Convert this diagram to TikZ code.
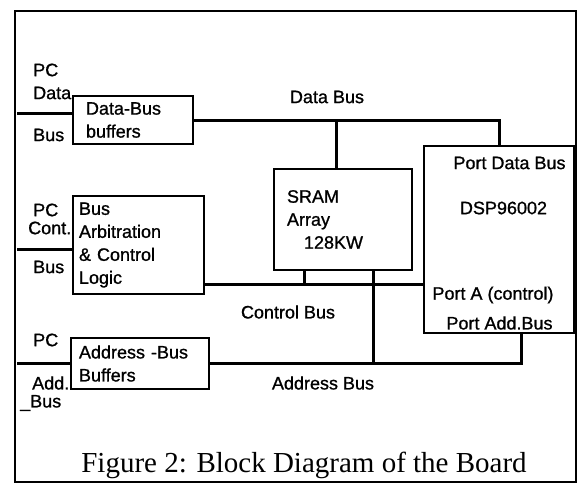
\documentclass[tikz,border=0pt]{standalone}
\usepackage{fontspec}
\setmainfont{Liberation Serif}
\setsansfont{Liberation Sans}[BoldFont={Liberation Sans}, BoldFeatures={FakeBold=1.0}]
\usetikzlibrary{positioning, calc}

\begin{document}
\begin{tikzpicture}[
  x=1pt, y=-1pt, font=\sffamily\bfseries\fontsize{18}{23}\selectfont,
  blk/.style={rectangle, draw, line width=2pt, align=left, inner ysep=0pt, anchor=north west},
  bus/.style={line width=3pt},
  lbl/.style={inner sep=0pt, anchor=west},
  txt/.style={inner sep=0pt}]
  \useasboundingbox (0,0) rectangle (577,490);
  \draw[line width=2pt] (15,11) rectangle (576,482);

  \node[blk, minimum width=120pt, minimum height=48pt, inner xsep=13pt, text width=94pt] (dbuf) at (72,95) {Data-Bus\\buffers};
  \node[blk, minimum width=131pt, minimum height=98pt, inner xsep=6pt, text width=119pt] (arb) at (72,195) {Bus\\Arbitration\\\& Control\\Logic};
  \node[blk, minimum width=138pt, minimum height=51pt, inner xsep=8pt, text width=122pt] (abuf) at (70,337) {Address -Bus\\Buffers};
  \node[blk, minimum width=138pt, minimum height=101pt, inner xsep=13pt, text width=112pt] (sram) at (273,168) {SRAM\\Array\\\hspace*{17pt}128KW};
  \node[blk, minimum width=150pt, minimum height=187pt] (dsp) at (423,145) {};

  \node[txt] (pdata) at ($(dsp.north)+(10.5,18)$) {Port Data Bus};
  \node[txt] (chip) at ($(dsp.north)+(4.5,63)$) {DSP96002};
  \node[txt] (porta) at ($(dsp.south)+(-6,-39)$) {Port A (control)};
  \node[txt] (padd) at ($(dsp.south)+(0.5,-11)$) {Port Add.Bus};

  \node[lbl] (pc1) at (33,70) {PC};
  \node[lbl] (pcdata) at (33,93) {Data};
  \node[lbl] (pcbus1) at (33,135) {Bus};
  \node[lbl] (pc2) at (33,210) {PC};
  \node[lbl] (pccont) at (28,228) {Cont.};
  \node[lbl] (pcbus2) at (33,267) {Bus};
  \node[lbl] (pc3) at (33,340) {PC};
  \node[lbl] (pcadd) at (32,383) {Add.};
  \node[lbl] (pcbus3) at (20,403) {\_Bus};

  \node[txt] (dlab) at (327,97) {Data Bus};
  \node[txt] (clab) at (288,312) {Control Bus};
  \node[txt] (alab) at (323,383) {Address Bus};

  \coordinate (din) at (17,113);
  \coordinate (cin) at (17,249);
  \coordinate (ain) at (17,363);
  \coordinate (stap) at ([xshift=-7pt]sram.north);
  \coordinate (cbus) at ([yshift=11pt]arb.south east);
  \coordinate (sc) at ([xshift=-39pt]sram.south);
  \coordinate (sa) at ([xshift=30pt]sram.south);
  \coordinate (atap) at ([xshift=22pt]dsp.south);

  \draw[bus] (din) -- (din -| dbuf.west);
  \draw[bus] (dbuf.east) -| (dsp.north);
  \draw[bus] (stap) -- (stap |- dbuf.east);
  \draw[bus] (cin) -- (cin -| arb.west);
  \draw[bus] (cbus) -- (cbus -| dsp.west);
  \draw[bus] (sc) -- (sc |- cbus);
  \draw[bus] (sa) -- (sa |- abuf.east);
  \draw[bus] (ain) -- (ain -| abuf.west);
  \draw[bus] (abuf.east) -| (atap);

  \node[font=\rmfamily\fontsize{29}{34}\selectfont, inner sep=0pt, anchor=base] (cap) at (304,472) {Figure 2: Block Diagram of the Board};
\end{tikzpicture}
\end{document}
